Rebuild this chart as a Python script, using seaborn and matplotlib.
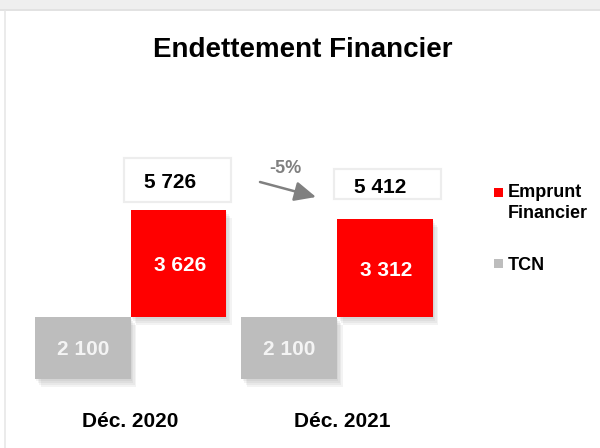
import pandas as pd
import matplotlib
matplotlib.use("Agg")
import matplotlib.pyplot as plt
import matplotlib.patheffects as pe
from matplotlib.patches import Rectangle
import seaborn as sns

# Données (en MDH)
periodes = ["Déc. 2020", "Déc. 2021"]
series = ["TCN", "Emprunt Financier"]
tcn = [2100, 2100]
emprunt = [3626, 3312]
variation = "-5%"

couleurs = {"TCN": "#bdbdbd", "Emprunt Financier": "#ff0000"}

df = pd.DataFrame({
    "periode": periodes * 2,
    "serie": ["TCN"] * 2 + ["Emprunt Financier"] * 2,
    "valeur": tcn + emprunt,
})
totaux = [a + b for a, b in zip(tcn, emprunt)]

sns.set_theme(style="white")
plt.rcParams["font.family"] = ["Liberation Sans", "DejaVu Sans"]
plt.rcParams["font.weight"] = "bold"

W, H = 600, 448
fig = plt.figure(figsize=(W / 100, H / 100), dpi=100)
ax = fig.add_axes([0, 0, 1, 1])


def fx(x):
    return x / W


def fy(y):
    return 1 - y / H


# fond type "carte"
fig.patches.append(Rectangle((0, fy(9)), 1, 9 / H, transform=fig.transFigure,
                             facecolor="#efefef", edgecolor="none", zorder=0))
fig.patches.append(Rectangle((0, fy(11)), 1, 2 / H, transform=fig.transFigure,
                             facecolor="#e2e2e2", edgecolor="none", zorder=0))
fig.lines.append(plt.Line2D([fx(5), fx(5)], [0, fy(11)], transform=fig.transFigure,
                            color="#e8e8e8", lw=1.2))

sns.barplot(data=df, x="periode", y="valeur", hue="serie", hue_order=series,
            order=periodes, palette=couleurs, saturation=1, width=0.925, gap=0,
            dodge=True, linewidth=0, edgecolor="none", legend=False, ax=ax)

# emprunt posé au-dessus du TCN (décalé à droite)
ombre = [pe.SimplePatchShadow(offset=(d, -1.4 * d), shadow_rgbFace="#606060", alpha=0.07)
         for d in (1, 2, 3, 4)] + [pe.Normal()]
cont_tcn, cont_emp = ax.containers[0], ax.containers[1]
for bar, base in zip(cont_emp.patches, tcn):
    bar.set_y(base)
for bar in list(cont_tcn.patches) + list(cont_emp.patches):
    bar.set_path_effects(ombre)

# échelle : ligne de base à y=379 px, 62 px pour 2100
u = 2100 / 62
ax.set_ylim(-69 * u, 379 * u)
ax.set_xlim(-130.5 / 206.5, (W - 130.5) / 206.5)
ax.set_axis_off()

# valeurs dans les barres
for bar, v in zip(cont_tcn.patches, tcn):
    ax.text(bar.get_x() + bar.get_width() / 2, bar.get_y() + bar.get_height() / 2 - 7 * u,
            f"{v:,}".replace(",", " "), ha="center", va="baseline",
            color="#f4f4f4", fontsize=15, fontweight="bold")
for bar, v in zip(cont_emp.patches, emprunt):
    ax.text(bar.get_x() + bar.get_width() / 2 + 1.5 / 206.5,
            bar.get_y() + bar.get_height() / 2 - 7.5 * u,
            f"{v:,}".replace(",", " "), ha="center", va="baseline",
            color="white", fontsize=15, fontweight="bold")

# totaux encadrés
boites = [(124, 158, 231, 202, 170, 188), (334, 169, 441, 199, 380, 193)]
for (x0, y0, x1, y1, tx, ty), t in zip(boites, totaux):
    fig.patches.append(Rectangle((fx(x0), fy(y1)), (x1 - x0) / W, (y1 - y0) / H,
                                 transform=fig.transFigure, facecolor="white",
                                 edgecolor="#ededed", lw=1.6, zorder=1))
    fig.text(fx(tx), fy(ty), f"{t:,}".replace(",", " "), ha="center", va="baseline",
             fontsize=15, fontweight="bold", color="black", zorder=3)

# variation
ax.annotate("", xy=(fx(316), fy(197)), xytext=(fx(260), fy(182)),
            xycoords="axes fraction", textcoords="axes fraction",
            arrowprops=dict(arrowstyle="-|>,head_length=0.65,head_width=0.3",
                            mutation_scale=20, color="#808080", lw=1.8,
                            shrinkA=0, shrinkB=0))
fig.text(fx(285), fy(173), variation, ha="center", va="baseline",
         fontsize=13, fontweight="bold", color="#808080")

# catégories
for i, p in enumerate(periodes):
    ax.text(i + (0 if i == 0 else 5 / 206.5), -48 * u, p, ha="center", va="baseline",
            fontsize=15, fontweight="bold", color="black")

# titre
fig.text(fx(303), fy(57), "Endettement Financier", ha="center", va="baseline",
         fontsize=20, fontweight="bold", color="black")

# légende manuelle
leg = [("Emprunt\nFinancier", couleurs["Emprunt Financier"], 188, 197),
       ("TCN", couleurs["TCN"], 259, 270)]
for lab, c, ytop, ybase in leg:
    fig.patches.append(Rectangle((fx(494), fy(ytop + 9)), 9 / W, 9 / H,
                                 transform=fig.transFigure, facecolor=c,
                                 edgecolor="none"))
    lignes = lab.split("\n")
    for k, l in enumerate(lignes):
        fig.text(fx(508), fy(ybase + 21 * k), l, ha="left", va="baseline",
                 fontsize=13, fontweight="bold", color="black")

fig.savefig("out.png", dpi=100, facecolor="white")
